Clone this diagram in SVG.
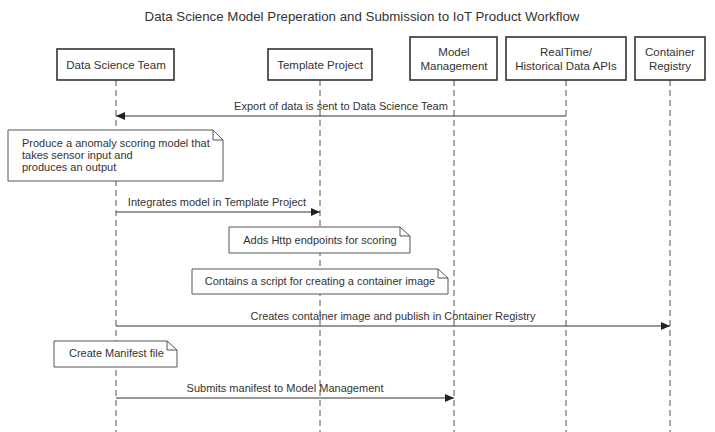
<svg xmlns="http://www.w3.org/2000/svg" width="715" height="432" viewBox="0 0 715 432">
  <style>
    text { font-family: "Liberation Sans", Arial, sans-serif; fill: #333; }
    .title { font-size: 13.3px; }
    .actor rect { fill: #fff; stroke: #333; stroke-width: 1.6; }
    .actor text { font-size: 11.5px; text-anchor: middle; }
    .life { stroke: #555; stroke-width: 1; stroke-dasharray: 6 4; fill: none; }
    .msg line { stroke: #333; stroke-width: 1; }
    .msg text { font-size: 11px; text-anchor: middle; }
    .note path { fill: #fff; stroke: #555; stroke-width: 1; }
    .note text { font-size: 11px; }
  </style>
  <defs>
    <marker id="arrow" markerWidth="9" markerHeight="8" refX="9" refY="4" orient="auto" markerUnits="userSpaceOnUse">
      <path d="M0,0 L9,4 L0,8 Z" fill="#222"/>
    </marker>
  </defs>

  <rect width="715" height="432" fill="#fff"/>
  <text class="title" x="362" y="21" text-anchor="middle">Data Science Model Preperation and Submission to IoT Product Workflow</text>

  <!-- lifelines -->
  <g id="lifelines">
    <line class="life" x1="116" y1="80" x2="116" y2="432"/>
    <line class="life" x1="320" y1="80" x2="320" y2="432"/>
    <line class="life" x1="454" y1="80" x2="454" y2="432"/>
    <line class="life" x1="566" y1="80" x2="566" y2="432"/>
    <line class="life" x1="670" y1="80" x2="670" y2="432"/>
  </g>

  <!-- participants -->
  <g id="data-science-team" class="actor">
    <rect x="57" y="49" width="117" height="31"/>
    <text x="116" y="69">Data Science Team</text>
  </g>
  <g id="template-project" class="actor">
    <rect x="268" y="49" width="104" height="31"/>
    <text x="320" y="69">Template Project</text>
  </g>
  <g id="model-management" class="actor">
    <rect x="410" y="37" width="87" height="43"/>
    <text x="454" y="56">Model</text>
    <text x="454" y="70">Management</text>
  </g>
  <g id="data-apis" class="actor">
    <rect x="506" y="37" width="120" height="43"/>
    <text x="566" y="56">RealTime/</text>
    <text x="566" y="70">Historical Data APIs</text>
  </g>
  <g id="container-registry" class="actor">
    <rect x="635" y="37" width="70" height="43"/>
    <text x="670" y="56">Container</text>
    <text x="670" y="70">Registry</text>
  </g>

  <!-- notes -->
  <g id="note-model" class="note">
    <path d="M8,130 H213 L223,140 V181 H8 Z M213,130 V140 H223"/>
    <text x="22" y="147">Produce a anomaly scoring model that</text>
    <text x="22" y="159">takes sensor input and</text>
    <text x="22" y="171">produces an output</text>
  </g>
  <g id="note-endpoints" class="note">
    <path d="M229,227 H400 L410,236 V253 H229 Z M400,227 V236 H410"/>
    <text x="320" y="244" text-anchor="middle">Adds Http endpoints for scoring</text>
  </g>
  <g id="note-script" class="note">
    <path d="M192,269 H438 L448,278 V294 H192 Z M438,269 V278 H448"/>
    <text x="320" y="285" text-anchor="middle">Contains a script for creating a container image</text>
  </g>
  <g id="note-manifest" class="note">
    <path d="M54,341 H167 L177,350 V367 H54 Z M167,341 V350 H177"/>
    <text x="69" y="357">Create Manifest file</text>
  </g>

  <!-- messages -->
  <g id="connectors" class="msg">
    <line x1="566" y1="116" x2="116" y2="116" marker-end="url(#arrow)"/>
    <text x="341" y="110">Export of data is sent to Data Science Team</text>

    <line x1="116" y1="212" x2="320" y2="212" marker-end="url(#arrow)"/>
    <text x="217" y="206">Integrates model in Template Project</text>

    <line x1="116" y1="326" x2="670" y2="326" marker-end="url(#arrow)"/>
    <text x="393" y="320">Creates container image and publish in Container Registry</text>

    <line x1="116" y1="398" x2="454" y2="398" marker-end="url(#arrow)"/>
    <text x="285" y="392">Submits manifest to Model Management</text>
  </g>
</svg>
